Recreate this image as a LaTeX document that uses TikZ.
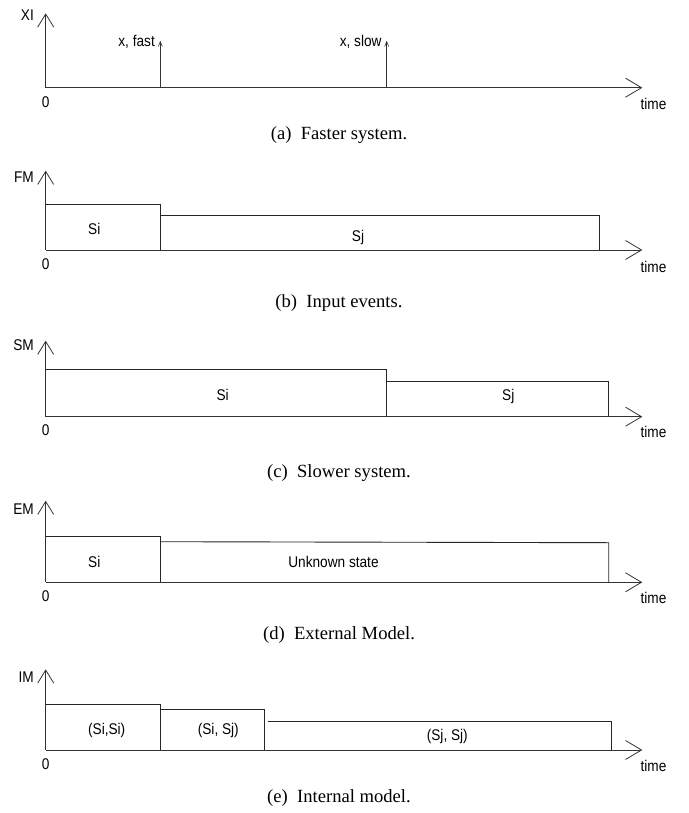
\documentclass[tikz,border=0pt]{standalone}
\usepackage{fontspec}
\setmainfont{Liberation Serif}
\setsansfont[FakeStretch=0.88]{Liberation Sans}
\usetikzlibrary{arrows.meta}
\begin{document}
\begin{tikzpicture}[x=1pt,y=-1pt,
  axis/.style={draw=black!80,line width=0.8pt},
  yaxis/.style={axis,-{Straight Barb[length=13pt,width=16pt,line width=0.8pt]}},
  xaxis/.style={axis,-{Straight Barb[length=16pt,width=19pt,line width=0.8pt]}},
  spike/.style={axis,-{Straight Barb[length=5pt,width=4pt,line width=0.6pt]}},
  statebox/.style={draw=black!85,line width=0.9pt},
  lbl/.style={font=\sffamily\fontsize{15.5}{17}\selectfont,inner sep=0pt},
  captext/.style={font=\rmfamily\fontsize{18.6}{21}\selectfont,inner sep=0pt}]
\useasboundingbox (0,0) rectangle (688,813);
% ---------- (a)
\coordinate (aO) at (45.7,87.7);
\coordinate (aY) at (45.7,13.3);
\coordinate (aX) at (642.3,87.7);
\coordinate (aF0) at (160.3,87.7);
\coordinate (aF1) at (160.3,40.7);
\coordinate (aS0) at (386.7,87.7);
\coordinate (aS1) at (386.7,40.7);
\draw[yaxis] (aO) -- (aY);
\draw[xaxis] (aO) -- (aX);
\draw[spike] (aF0) -- (aF1);
\draw[spike] (aS0) -- (aS1);
\node[lbl,anchor=east] (aYl) at (34,15) {XI};
\node[lbl] (a0) at (45.7,101.7) {0};
\node[lbl] (at) at (653.5,103.5) {time};
\node[lbl,anchor=east] (afast) at (155,42) {x, fast};
\node[lbl,anchor=east] (aslow) at (381.7,42) {x, slow};
\node[captext] (acap) at (339,135) {(a)\enspace Faster system.};
% ---------- (b)
\coordinate (bO) at (45.7,250);
\coordinate (bY) at (45.7,170.7);
\coordinate (bX) at (642.3,250);
\draw[yaxis] (bO) -- (bY);
\draw[xaxis] (bO) -- (bX);
\draw[statebox] (45.7,204) -- (160.3,204) -- (160.3,250);
\draw[statebox] (160.3,215.7) -- (599,215.7) -- (599,250);
\node[lbl,anchor=east] (bYl) at (34,177) {FM};
\node[lbl] (bSi) at (94.3,229.3) {Si};
\node[lbl] (bSj) at (358,237.3) {Sj};
\node[lbl] (b0) at (45.7,264.3) {0};
\node[lbl] (bt) at (653.5,266.5) {time};
\node[captext] (bcap) at (339,303.3) {(b)\enspace Input events.};
% ---------- (c)
\coordinate (cO) at (45.7,416.7);
\coordinate (cY) at (45.7,340.7);
\coordinate (cX) at (642.3,416.7);
\draw[yaxis] (cO) -- (cY);
\draw[xaxis] (cO) -- (cX);
\draw[statebox] (45.7,369.5) -- (386.7,369.5) -- (386.7,416.7);
\draw[statebox] (386.7,381) -- (608.7,381) -- (608.7,416.7);
\node[lbl,anchor=east] (cYl) at (34,345) {SM};
\node[lbl] (cSi) at (222.7,395.3) {Si};
\node[lbl] (cSj) at (508.3,396.7) {Sj};
\node[lbl] (c0) at (45.7,430) {0};
\node[lbl] (ct) at (653.5,432) {time};
\node[captext] (ccap) at (339,473) {(c)\enspace Slower system.};
% ---------- (d)
\coordinate (dO) at (45.7,582.3);
\coordinate (dY) at (45.7,500.7);
\coordinate (dX) at (642.3,582.3);
\draw[yaxis] (dO) -- (dY);
\draw[xaxis] (dO) -- (dX);
\draw[statebox] (45.7,536) -- (160.3,536) -- (160.3,582.3);
\draw[statebox] (160.3,541.7) -- (608.7,542.7) -- (608.7,582.3);
\node[lbl,anchor=east] (dYl) at (34,509.3) {EM};
\node[lbl] (dSi) at (94.3,561.7) {Si};
\node[lbl] (dU) at (333.5,561.7) {Unknown state};
\node[lbl] (d0) at (45.7,596) {0};
\node[lbl] (dt) at (653.5,598) {time};
\node[captext] (dcap) at (339,635) {(d)\enspace External Model.};
% ---------- (e)
\coordinate (eO) at (45.7,750);
\coordinate (eY) at (45.7,669.3);
\coordinate (eX) at (642.3,750);
\draw[yaxis] (eO) -- (eY);
\draw[xaxis] (eO) -- (eX);
\draw[statebox] (45.7,704) -- (160.3,704) -- (160.3,750);
\draw[statebox] (160.3,709.7) -- (264.3,709.7) -- (264.3,750);
\draw[statebox] (267.5,721) -- (611,721) -- (611,750);
\node[lbl,anchor=east] (eYl) at (34,676.7) {IM};
\node[lbl] (e1) at (106.7,730.7) {(Si,Si)};
\node[lbl] (e2) at (218.3,730) {(Si, Sj)};
\node[lbl] (e3) at (447.3,736) {(Sj, Sj)};
\node[lbl] (e0) at (45.7,764) {0};
\node[lbl] (et) at (653.5,766) {time};
\node[captext] (ecap) at (339,798.3) {(e)\enspace Internal model.};
\end{tikzpicture}
\end{document}
